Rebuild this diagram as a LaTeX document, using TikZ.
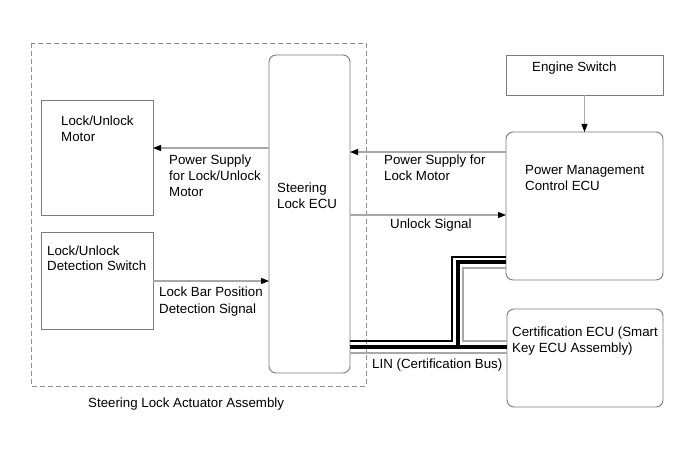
\documentclass[tikz,border=0pt]{standalone}
\usepackage{fontspec}
\setmainfont{Liberation Sans}
\usetikzlibrary{arrows.meta}
\definecolor{boxgray}{HTML}{7A7A7A}
\definecolor{arrgray}{HTML}{A8A8A8}
\definecolor{dashgray}{HTML}{8C8C8C}
\begin{document}
\begin{tikzpicture}[x=1pt,y=-1pt,
  box/.style={draw=boxgray, line width=0.9pt, anchor=north west, inner sep=0pt, outer sep=0pt},
  rbox/.style={box, rounded corners=7pt},
  lbl/.style={anchor=base west, inner sep=0pt, font=\fontsize{13.3}{16}\selectfont},
  sig/.style={draw=arrgray, line width=1.1pt, -{Triangle[length=8pt,width=6pt,color=black]}},
  bus/.style={line join=miter},
]
\useasboundingbox (0,0) rectangle (691,465);

% assembly frame
\draw[dashgray, line width=0.8pt, dash pattern=on 5pt off 3pt] (31,43) rectangle (366,386);
\node[lbl] (asm) at (88,407) {Steering Lock Actuator Assembly};

% boxes
\node[box, minimum width=112pt, minimum height=115pt] (motor) at (41,100) {};
\node[lbl] (motorA) at (61,126) {Lock/Unlock};
\node[lbl] (motorB) at (61,142) {Motor};

\node[box, minimum width=112pt, minimum height=97pt] (det) at (41,232) {};
\node[lbl] (detA) at (47,255) {Lock/Unlock};
\node[lbl] (detB) at (47,271) {Detection Switch};

\node[rbox, minimum width=81pt, minimum height=318pt] (ecu) at (269,55) {};
\node[lbl] (ecuA) at (277,193) {Steering};
\node[lbl] (ecuB) at (277,209) {Lock ECU};

\node[box, minimum width=157pt, minimum height=40pt] (eng) at (506,55) {};
\node[lbl] (engA) at (532,72) {Engine Switch};

\node[rbox, minimum width=157pt, minimum height=148pt] (pmc) at (506,132) {};
\node[lbl] (pmcA) at (525,175) {Power Management};
\node[lbl] (pmcB) at (525,191) {Control ECU};

\node[rbox, minimum width=156pt, minimum height=98pt] (cert) at (507,309) {};
\node[lbl] (certA) at (512,336) {Certification ECU (Smart};
\node[lbl] (certB) at (512,352) {Key ECU Assembly)};

% signal arrows
\draw[sig] (ecu.west|-0,148) -- (motor.east|-0,148);
\node[lbl] (psA) at (169,165) {Power Supply};
\node[lbl] (psB) at (169,181) {for Lock/Unlock};
\node[lbl] (psC) at (169,197) {Motor};

\draw[sig] (det.east|-0,281) -- (ecu.west|-0,281);
\node[lbl] (lbA) at (159,297) {Lock Bar Position};
\node[lbl] (lbB) at (159,313) {Detection Signal};

\draw[sig] (pmc.west|-0,152) -- (ecu.east|-0,152);
\node[lbl] (plA) at (384,165) {Power Supply for};
\node[lbl] (plB) at (384,181) {Lock Motor};

\draw[sig] (ecu.east|-0,215) -- (pmc.west|-0,215);
\node[lbl] (ul) at (390,229) {Unlock Signal};

\draw[sig] (eng.south) -- (pmc.north);

% LIN bus
\draw[bus, black, line width=4pt] (ecu.east|-0,347) -- (cert.west|-0,347);
\draw[bus, black, line width=4pt] (458,347) -- (458,262) -- (pmc.west|-0,262);
\draw[bus, black, line width=1.2pt] (ecu.east|-0,341) -- (452,341) -- (452,257) -- (pmc.west|-0,257);
\draw[bus, arrgray, line width=1.2pt] (pmc.west|-0,268) -- (463,268) -- (463,341) -- (cert.west|-0,341);
\draw[bus, arrgray, line width=1.2pt] (ecu.east|-0,353) -- (cert.west|-0,353);
\node[lbl] (lin) at (372,368) {LIN (Certification Bus)};
\end{tikzpicture}
\end{document}
